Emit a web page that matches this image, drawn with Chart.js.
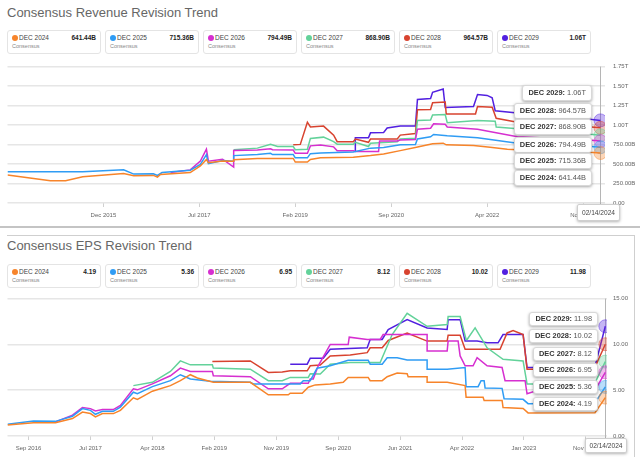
<!DOCTYPE html>
<html>
<head>
<meta charset="utf-8">
<script src="https://cdn.jsdelivr.net/npm/chart.js@4.4.1/dist/chart.umd.min.js"></script>
<style>
  body { margin: 0; width: 640px; height: 457px; overflow: hidden; background: #fff; position: relative;
         font-family: "Liberation Sans", Arial, sans-serif; }
  .title { position: absolute; left: 7px; font-size: 13px; line-height: 15px; color: #666; white-space: nowrap; }
  .leg { position: absolute; width: 94px; height: 24px; box-sizing: border-box; border: 1px solid #e4e4e4;
         border-radius: 3px; background: #fff; }
  .leg .dot { position: absolute; left: 4px; top: 3.5px; width: 6px; height: 6px; border-radius: 50%; }
  .leg .nm { position: absolute; left: 11px; top: 2.5px; font-size: 6.5px; line-height: 8px; color: #444; }
  .leg .val { position: absolute; right: 4px; top: 2.5px; font-size: 6.5px; line-height: 8px; font-weight: bold; color: #222; }
  .leg .sub { position: absolute; left: 4px; top: 12px; font-size: 5.5px; line-height: 7px; color: #888; }
  canvas { position: absolute; left: 0; }
  .tip { position: absolute; background: #fff; border: 1px solid #d8d8d8; border-radius: 3px;
         box-shadow: 0 1px 3px rgba(0,0,0,.35); font-size: 7.4px; color: #555; padding: 0 5px;
         white-space: nowrap; box-sizing: border-box; }
  .tip b { color: #333; }
  .date { position: absolute; background: #fff; border: 1px solid #cfcfcf; border-radius: 2px;
          box-shadow: 0 1px 3px rgba(0,0,0,.3); font-size: 6.6px; color: #444; text-align: center; box-sizing: border-box; }
  .sep { position: absolute; left: 0; top: 226px; width: 640px; height: 2px; background: #c4c4c4; }
  .frame { position: absolute; left: 7px; top: 235px; width: 627px; height: 240px; border-top: 1px solid #cfcfcf;
           border-right: 1px solid #cfcfcf; }
</style>
</head>
<body>
<div class="title" style="top:5px">Consensus Revenue Revision Trend</div>
<canvas id="rev" width="640" height="170" style="top:55px"></canvas>
<div class="sep"></div>
<div class="frame"></div>
<div class="title" style="top:238px">Consensus EPS Revision Trend</div>
<canvas id="eps" width="635" height="169" style="top:289px"></canvas>

<script>
// x values are months since Jan 2014
const seriesNames = ['DEC 2024', 'DEC 2025', 'DEC 2026', 'DEC 2027', 'DEC 2028', 'DEC 2029']
const seriesColors = ['#f7842a', '#2f9cf4', '#d62fd0', '#63d29a', '#d8432f', '#5220e0']
const cursorX = 121.45
const cursorLabel = '02/14/2024'

// revenue, $B
const rev2024 = [[4.0,359],[12.5,287],[15.5,287],[18.9,337],[27.0,379],[29.0,350],[32.9,354],[33.7,333],[34.3,366],[40.2,391],[42.2,475],[43.4,558],[43.8,516],[46.6,540],[48.8,537],[48.8,554],[53.5,571],[60.6,571],[61.0,525],[63.4,525],[64.0,558],[66.0,579],[72.5,587],[75.9,608],[78.5,629],[81.8,672],[85.0,715],[88.2,760],[90.3,768],[90.9,746],[96.3,738],[99.6,716],[103.0,690],[105.0,683],[118.5,655],[121.45,641.44]]
const rev2025 = [[4.0,400],[18.9,402],[27.0,425],[29.0,371],[32.9,375],[33.7,354],[34.6,391],[40.2,421],[42.2,496],[43.4,620],[43.8,504],[46.6,546],[48.8,537],[48.8,608],[53.5,621],[56.1,637],[56.5,621],[60.6,621],[61.0,579],[63.4,579],[64.0,633],[66.0,641],[72.5,655],[75.9,704],[78.5,712],[81.8,746],[84.8,750],[85.2,821],[87.8,850],[88.4,879],[91.1,862],[97.1,837],[105.0,766],[118.5,730],[121.45,715.36]]
const rev2026 = [[36.3,391],[40.2,425],[42.2,537],[43.4,690],[43.8,537],[46.6,562],[48.8,462],[48.8,675],[53.5,680],[56.1,696],[56.5,683],[60.6,680],[61.0,637],[63.4,637],[64.0,733],[66.0,745],[68.6,720],[69.3,671],[72.5,671],[72.9,662],[77.5,662],[77.7,796],[81.2,796],[81.8,808],[84.8,815],[85.2,946],[87.8,960],[88.4,1017],[90.7,1010],[91.1,975],[97.1,946],[105.0,850],[118.5,810],[121.45,794.49]]
const rev2027 = [[48.8,683],[53.5,704],[56.1,754],[57.5,725],[60.6,725],[61.0,683],[63.4,690],[64.0,829],[66.6,845],[68.6,787],[69.3,754],[72.5,754],[72.9,779],[75.5,725],[75.9,766],[81.2,787],[81.8,821],[84.8,830],[85.2,1058],[87.8,1065],[88.2,1129],[90.7,1135],[91.1,1029],[97.1,1058],[100.6,1050],[100.8,975],[105.0,954],[118.5,890],[121.45,868.9]]
const rev2028 = [[60.6,746],[62.0,752],[63.4,1037],[64.0,975],[66.6,987],[68.6,871],[69.3,787],[72.5,787],[72.9,821],[75.5,779],[75.9,821],[81.2,821],[81.8,871],[84.8,892],[85.2,1196],[87.8,1200],[88.2,1287],[90.7,1296],[90.9,1142],[96.7,1142],[97.1,1237],[100.0,1230],[100.8,1087],[105.0,1037],[118.5,980],[121.45,964.57]]
const rev2029 = [[72.9,662],[72.9,837],[75.5,837],[75.9,900],[78.5,905],[79.2,962],[81.8,987],[84.8,987],[85.2,1329],[87.8,1340],[88.2,1421],[90.3,1462],[90.7,1225],[96.3,1237],[97.1,1391],[99.0,1380],[100.0,1350],[100.6,1183],[105.0,1154],[118.5,1080],[121.45,1060]]

// EPS, $
const eps2024 = [[29.26,1.19],[33.27,1.44],[36.66,1.44],[39.28,1.91],[40.82,2.62],[42.05,2.45],[42.82,2.08],[43.9,2.45],[45.59,2.45],[46.67,2.8],[48.67,4.17],[49.29,4.0],[51.6,4.89],[54.38,5.5],[55.92,6.04],[57.46,6.69],[58.54,6.33],[61.0,5.86],[66.7,5.86],[69.48,4.5],[72.56,4.5],[72.86,4.67],[74.71,4.67],[75.64,5.32],[76.72,5.58],[79.03,5.69],[81.03,5.86],[81.8,6.4],[84.88,6.4],[85.19,6.04],[87.04,6.04],[87.81,6.47],[89.35,6.87],[90.89,6.8],[91.05,6.47],[93.97,6.47],[93.97,5.86],[97.06,5.86],[99.83,5.5],[99.98,4.24],[102.6,4.24],[102.76,3.88],[105.53,3.88],[105.68,3.1],[108.77,3.0],[109.54,2.52],[119.86,2.55],[121.45,4.19]]
const eps2025 = [[29.26,1.29],[33.27,1.65],[36.66,1.6],[39.28,2.16],[40.82,2.99],[42.05,2.8],[42.82,2.37],[43.9,2.7],[45.59,2.7],[46.67,3.16],[48.67,4.78],[49.29,4.61],[51.6,5.39],[54.38,6.04],[55.92,6.69],[57.46,6.22],[60.54,5.97],[66.7,5.86],[67.16,5.69],[74.41,5.69],[74.87,6.04],[75.95,6.04],[77.0,7.4],[79.03,7.66],[81.8,8.27],[84.88,8.27],[85.19,7.84],[87.04,7.84],[87.81,8.55],[89.35,8.55],[90.89,8.3],[93.97,8.3],[93.97,7.3],[97.06,7.3],[99.83,7.48],[99.98,5.39],[101.83,5.39],[102.29,6.04],[102.76,6.04],[102.91,5.25],[105.53,5.2],[105.84,4.07],[108.77,4.0],[109.54,3.53],[119.86,3.6],[121.45,5.36]]
const eps2026 = [[36.66,1.54],[39.28,2.27],[40.82,3.1],[42.05,2.99],[42.82,2.73],[43.9,2.88],[45.59,2.88],[46.67,3.34],[48.67,5.15],[49.29,5.04],[51.6,5.69],[54.38,6.58],[55.92,7.41],[57.46,7.04],[60.85,7.04],[61.0,6.58],[66.7,6.47],[69.48,5.15],[71.63,5.15],[72.86,5.75],[75.64,5.75],[75.95,6.22],[76.41,6.22],[77.18,7.66],[79.03,10.0],[81.8,10.0],[81.96,10.79],[84.73,10.54],[86.73,10.54],[87.19,11.08],[93.97,11.08],[93.97,9.28],[97.06,9.28],[97.21,10.36],[98.75,10.36],[99.06,8.74],[99.83,7.66],[101.06,7.66],[101.68,8.55],[103.22,7.66],[105.53,7.48],[105.99,6.04],[109.08,6.04],[109.38,4.61],[110.92,4.96],[119.86,5.0],[121.45,6.95]]
const eps2027 = [[48.67,5.5],[51.6,5.86],[54.38,7.04],[55.92,8.2],[57.46,7.77],[60.85,7.77],[61.0,7.41],[66.7,7.3],[69.48,6.04],[71.63,6.04],[72.86,6.4],[75.64,6.4],[75.95,6.8],[77.49,6.76],[79.03,7.84],[82.11,8.02],[86.73,8.02],[88.58,11.08],[90.89,13.4],[93.97,11.97],[97.06,12.16],[97.21,13.05],[99.06,13.05],[99.98,10.54],[100.14,10.54],[101.37,11.8],[103.22,9.63],[105.68,8.38],[108.77,8.2],[109.38,5.69],[110.92,5.69],[119.86,5.8],[121.45,8.12]]
const eps2028 = [[60.85,8.13],[66.7,8.2],[69.48,6.94],[71.63,7.0],[72.86,7.12],[75.48,7.12],[75.95,7.66],[77.49,7.75],[79.03,8.74],[82.11,8.85],[84.73,9.1],[85.19,9.63],[87.04,9.63],[87.97,10.43],[90.89,11.25],[93.97,10.36],[97.06,10.36],[97.21,11.0],[99.06,11.0],[99.83,9.46],[105.22,9.46],[106.3,11.25],[107.23,11.51],[108.77,11.08],[109.38,7.3],[110.92,7.3],[119.86,7.5],[121.45,10.02]]
const eps2029 = [[72.86,7.84],[75.48,7.84],[75.95,8.49],[77.95,8.49],[79.03,9.46],[84.73,9.63],[85.19,10.54],[87.04,10.54],[87.97,11.62],[90.89,12.7],[93.97,11.8],[97.06,11.62],[97.21,12.7],[99.06,12.7],[99.83,10.36],[101.68,10.36],[103.22,10.17],[104.91,10.17],[105.68,11.08],[108.77,11.08],[109.38,7.48],[110.92,7.48],[119.86,7.6],[121.45,11.98]]

const revTicks = [23, 42, 61, 80, 99, 118]
const revTickLabels = ['Dec 2015', 'Jul 2017', 'Feb 2019', 'Sep 2020', 'Apr 2022', 'Nov 2023']
const epsTicks = [32.5, 42.05, 51.6, 61.15, 70.7, 80.25, 89.8, 99.35, 108.9, 118.45]
const epsTickLabels = ['Sep 2016', 'Jul 2017', 'Apr 2018', 'Feb 2019', 'Nov 2019', 'Sep 2020', 'Jun 2021', 'Apr 2022', 'Jan 2023', 'Nov 2023']

function fmtRev(v) {
  if (v >= 1000) return (v / 1000).toFixed(2) + 'T'
  if (v > 0) return v.toFixed(2) + 'B'
  return '0.00'
}
function fmtEps(v) { return v.toFixed(2) }

const cursorPlugin = {
  id: 'cursor',
  beforeDatasetsDraw(chart) {
    const x = chart.scales.x.getPixelForValue(cursorX)
    const a = chart.chartArea
    const c = chart.ctx
    c.save()
    c.strokeStyle = '#b5b5b5'
    c.lineWidth = 1
    c.beginPath()
    c.moveTo(Math.round(x) + 0.5, a.top)
    c.lineTo(Math.round(x) + 0.5, a.bottom + 3)
    c.stroke()
    c.restore()
  }
}

function drawChart(id, series, o) {
  const font = { size: 6, family: '"Liberation Sans", Arial, sans-serif' }
  return new Chart(document.getElementById(id), {
    type: 'line',
    data: {
      datasets: series.map((d, i) => ({
        label: seriesNames[i],
        data: d.map(p => ({ x: p[0], y: p[1] })),
        borderColor: seriesColors[i],
        borderWidth: 1.5,
        tension: 0,
        pointRadius: c => c.dataIndex === d.length - 1 ? 6.5 : 0,
        pointBackgroundColor: seriesColors[i] + '55',
        pointBorderColor: seriesColors[i] + '70',
        pointBorderWidth: 1
      }))
    },
    options: {
      responsive: false,
      animation: false,
      devicePixelRatio: 1,
      events: [],
      layout: { padding: { left: 7, top: 8, right: 0, bottom: 0 } },
      plugins: { legend: { display: false }, tooltip: { enabled: false } },
      scales: {
        x: {
          type: 'linear', min: o.xMin, max: o.xMax,
          afterBuildTicks: s => { s.ticks = o.ticks.map(v => ({ value: v })) },
          afterFit: s => { s.height = 22 },
          ticks: { autoSkip: false, maxRotation: 0, padding: 5, color: '#666', font,
                   callback: (v, i) => o.labels[i] },
          grid: { drawOnChartArea: false, drawTicks: true, tickLength: 4, color: '#d0d0d0' },
          border: { display: false }
        },
        y: {
          position: 'right', min: 0, max: o.yMax,
          afterFit: s => { s.width = o.yWidth },
          ticks: { stepSize: o.yStep, padding: o.yPad, color: '#666', font, callback: o.fmt },
          grid: { drawTicks: false, color: '#e6e6e6', lineWidth: 1.5 },
          border: { display: false }
        }
      }
    },
    plugins: [cursorPlugin]
  })
}

const revSeries = [rev2024, rev2025, rev2026, rev2027, rev2028, rev2029]
const epsSeries = [eps2024, eps2025, eps2026, eps2027, eps2028, eps2029]

drawChart('rev', revSeries, { xMin: 4, xMax: 122.35, ticks: revTicks, labels: revTickLabels,
  yMax: 1750, yStep: 250, yWidth: 35, yPad: 8, fmt: fmtRev })
drawChart('eps', epsSeries, { xMin: 29.26, xMax: 121.71, ticks: epsTicks, labels: epsTickLabels,
  yMax: 15, yStep: 5, yWidth: 28, yPad: 6, fmt: fmtEps })

// legend cards
function addLegend(top, series, fmt) {
  series.forEach((d, i) => {
    const box = document.createElement('div')
    box.className = 'leg'
    box.style.left = (7 + i * 98) + 'px'
    box.style.top = top + 'px'
    box.innerHTML = '<div class="dot" style="background:' + seriesColors[i] + '"></div>' +
      '<div class="nm">' + seriesNames[i] + '</div>' +
      '<div class="val">' + fmt(d[d.length - 1][1]) + '</div>' +
      '<div class="sub">Consensus</div>'
    document.body.appendChild(box)
  })
}
addLegend(30, revSeries, fmtRev)
addLegend(264, epsSeries, fmtEps)

// hover tooltips, stacked from DEC 2029 down to DEC 2024
function addTips(tops, right, h, series, fmt) {
  for (let i = series.length - 1; i >= 0; i--) {
    const d = series[i]
    const t = document.createElement('div')
    t.className = 'tip'
    t.style.top = tops[i] + 'px'
    t.style.right = (640 - right) + 'px'
    t.style.height = h + 'px'
    t.style.lineHeight = (h - 2) + 'px'
    t.innerHTML = '<b>' + seriesNames[i] + ':</b> ' + fmt(d[d.length - 1][1])
    document.body.appendChild(t)
  }
}
addTips([170, 153, 137, 119, 103, 85], 592, 16, revSeries, fmtRev)
addTips([397, 380, 363, 347, 329, 312], 598, 14, epsSeries, fmtEps)

function addDate(left, top, w, h) {
  const b = document.createElement('div')
  b.className = 'date'
  b.style.left = left + 'px'
  b.style.top = top + 'px'
  b.style.width = w + 'px'
  b.style.height = h + 'px'
  b.style.lineHeight = (h - 2) + 'px'
  b.textContent = cursorLabel
  document.body.appendChild(b)
}
addDate(577, 204, 43, 17)
addDate(585, 438, 42, 15)
</script>
</body>
</html>
